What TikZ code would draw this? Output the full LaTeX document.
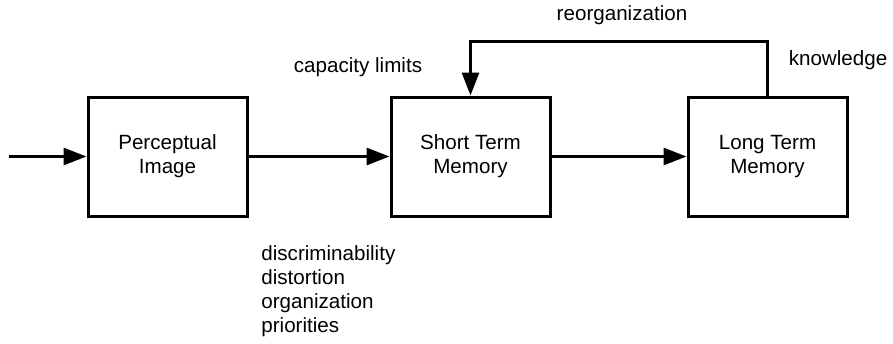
\documentclass[tikz,border=0pt]{standalone}
\usepackage{fontspec}
\setmainfont{Liberation Sans}
\usetikzlibrary{positioning,arrows.meta}

\begin{document}
\begin{tikzpicture}[x=0.5pt,y=-0.5pt,
    font=\fontsize{10.3}{12}\selectfont,
    stage/.style={draw, line width=1.5pt, minimum width=79.5pt, minimum height=59.5pt, align=center, inner sep=0pt},
]
\useasboundingbox (0,0) rectangle (893,343);
\draw[line width=1.5pt, >={Triangle[length=11.5pt,width=8.5pt]}, ->]
node[stage] at (167.5,156.5) (pi) {Perceptual\\Image}
node[stage, right=70.5pt of pi] (stm) {Short Term\\Memory}
node[stage, right=67.5pt of stm] (ltm) {Long Term\\Memory}
coordinate[left=39pt of pi] (in)
(in) edge (pi)
(pi) edge (stm)
(stm) edge (ltm)
(ltm.north) -- ++(0,-54.5) -| (stm.north)
;
\node at (622,15) (reorg) {reorganization};
\node at (358,67) (cap) {capacity limits};
\node at (838,60) (know) {knowledge};
\node[align=left, anchor=west, inner sep=0pt] at (261,291) (factors)
  {discriminability\\distortion\\organization\\priorities};
\end{tikzpicture}
\end{document}
